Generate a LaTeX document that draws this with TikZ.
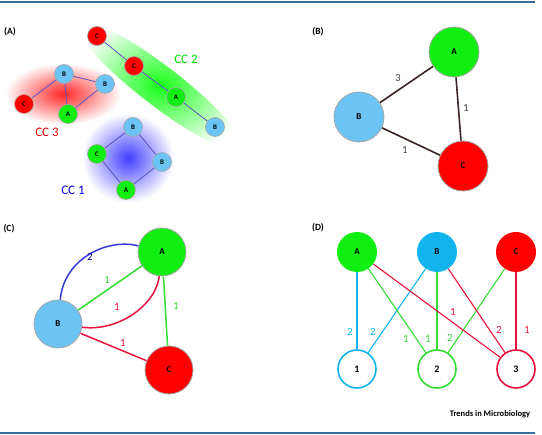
\documentclass[tikz,border=0pt]{standalone}
\usepackage{fontspec}
\setmainfont{Carlito}
\definecolor{nred}{HTML}{FF0000}
\definecolor{ngreen}{HTML}{11EE11}
\definecolor{nblue}{HTML}{6CC4F4}
\definecolor{ncyan}{HTML}{12B4EE}
\definecolor{crim}{HTML}{E8103C}
\definecolor{rulecol}{HTML}{3B6C9C}
\definecolor{edgeA}{HTML}{5B4FC0}
\definecolor{edgeB}{HTML}{3A2424}
\definecolor{cblue}{HTML}{3A3AD8}
\definecolor{cgreen}{HTML}{33DD33}
\definecolor{numgrey}{HTML}{444444}

\tikzset{
  small/.style={circle,draw=gray!70,line width=0.6pt,minimum size=19pt,inner sep=0pt,
    font=\fontsize{7}{7}\selectfont\bfseries},
  big/.style={circle,draw=gray!70,line width=0.8pt,minimum size=50pt,inner sep=0pt,
    font=\fontsize{9}{9}\selectfont\bfseries},
  mid/.style={circle,minimum size=40pt,inner sep=0pt,font=\fontsize{9}{9}\selectfont\bfseries},
  ring/.style={circle,fill=white,line width=1.6pt,minimum size=38pt,inner sep=0pt,
    font=\fontsize{10}{10}\selectfont\bfseries},
  panel/.style={font=\fontsize{9.5}{9.5}\selectfont\bfseries},
  num/.style={font=\fontsize{11}{11}\selectfont},
  cc/.style={font=\fontsize{13}{13}\selectfont}
}

\begin{document}
\begin{tikzpicture}[x=1pt,y=-1pt]
  \useasboundingbox (0,0) rectangle (542,435);
  % frame rules
  \draw[rulecol,line width=2.2pt] (0,2) -- (535,2);
  \draw[rulecol,line width=2.2pt] (0,433) -- (535,433);

  % (A) connected components
  \node[panel] (la) at (10,32) {(A)};
  \shade[inner color=red!85,outer color=white] (63,94) ellipse [x radius=58pt,y radius=31pt];
  \shade[inner color=blue!75,outer color=white] (128,158) ellipse [x radius=46pt,y radius=45pt];
  \begin{scope}[shift={(160,86)},rotate=-37.6]
    \shade[inner color=green!90,outer color=white] (0,0) ellipse [x radius=104pt,y radius=20pt];
  \end{scope}
  \node[small,fill=nred] (c2a) at (97,36) {C};
  \node[small,fill=nred] (c2b) at (134,66) {C};
  \node[small,fill=ngreen] (c2c) at (176,97) {A};
  \node[small,fill=nblue] (c2d) at (215,127) {B};
  \node[small,fill=nblue] (c3a) at (64,74) {B};
  \node[small,fill=nblue] (c3b) at (105,84) {B};
  \node[small,fill=nred] (c3c) at (24,104) {C};
  \node[small,fill=ngreen] (c3d) at (68,114) {A};
  \node[small,fill=nblue] (c1a) at (133,127) {B};
  \node[small,fill=ngreen] (c1b) at (97,154) {C};
  \node[small,fill=nblue] (c1c) at (162,162) {B};
  \node[small,fill=ngreen] (c1d) at (126,190) {A};
  \begin{scope}[edgeA,line width=0.8pt]
    \draw (c2a) -- (c2b);
    \draw (c2b) -- (c2c);
    \draw (c2c) -- (c2d);
    \draw (c3c) -- (c3a);
    \draw (c3a) -- (c3d);
    \draw (c3a) -- (c3b);
    \draw (c3b) -- (c3d);
    \draw (c1a) -- (c1b);
    \draw (c1b) -- (c1d);
    \draw (c1d) -- (c1c);
    \draw (c1c) -- (c1a);
  \end{scope}
  \node[cc,text=green!80!black!60!green] (cc2) at (186,59) {CC 2};
  \node[cc,text=red!85!black] (cc3) at (47,132) {CC 3};
  \node[cc,text=blue!85!black] (cc1) at (73,190) {CC 1};

  % (B) weighted graph
  \node[panel] (lb) at (318,32) {(B)};
  \node[big,fill=ngreen] (ba) at (454,52) {A};
  \node[big,fill=nblue] (bb) at (359,117) {B};
  \node[big,fill=nred] (bc) at (463,166) {C};
  \begin{scope}[edgeB,line width=1.6pt]
    \draw (bb) -- (ba);
    \draw (ba) -- (bc);
    \draw (bb) -- (bc);
  \end{scope}
  \node[num,text=numgrey] (w1) at (398,78) {3};
  \node[num,text=numgrey] (w2) at (466,108) {1};
  \node[num,text=numgrey] (w3) at (405,150) {1};

  % (C) multigraph
  \node[panel] (lc) at (9,229) {(C)};
  \node[mid,draw=gray!70,line width=0.8pt,minimum size=48pt,fill=ngreen] (ca) at (162,252) {A};
  \node[mid,draw=gray!70,line width=0.8pt,minimum size=48pt,fill=nblue] (cb) at (58,324) {B};
  \node[mid,draw=gray!70,line width=0.8pt,minimum size=48pt,fill=nred] (cc) at (169,370) {C};
  \draw[cblue,line width=1.5pt] (cb) .. controls (64,258) and (108,238) .. (ca);
  \draw[cgreen,line width=1.5pt] (cb) -- (ca);
  \draw[crim,line width=1.5pt] (cb) .. controls (118,332) and (156,305) .. (ca);
  \draw[cgreen,line width=1.5pt] (ca) -- (cc);
  \draw[crim,line width=1.5pt] (cb) -- (cc);
  \node[num,text=blue!55!black] (x1) at (90,257) {2};
  \node[num,text=cgreen] (x2) at (107,280) {1};
  \node[num,text=crim] (x3) at (117,307) {1};
  \node[num,text=cgreen] (x4) at (176,306) {1};
  \node[num,text=crim] (x5) at (123,343) {1};

  % (D) bipartite graph
  \node[panel] (ld) at (318,228) {(D)};
  \node[mid,fill=ngreen] (da) at (357,252) {A};
  \node[mid,fill=ncyan] (db) at (437,252) {B};
  \node[mid,fill=nred] (dc) at (516,252) {C};
  \node[ring,draw=ncyan] (d1) at (357,369) {1};
  \node[ring,draw=cgreen] (d2) at (437,369) {2};
  \node[ring,draw=crim] (d3) at (516,369) {3};
  \begin{scope}[line width=1.1pt]
    \draw[ncyan] (da) -- (d1);
    \draw[ncyan] (db) -- (d1);
    \draw[cgreen] (da) -- (d2);
    \draw[cgreen] (db) -- (d2);
    \draw[cgreen] (dc) -- (d2);
    \draw[crim] (da) -- (d3);
    \draw[crim] (db) -- (d3);
    \draw[crim] (dc) -- (d3);
  \end{scope}
  \node[num,text=ncyan] (y1) at (350,332) {2};
  \node[num,text=ncyan] (y2) at (373,332) {2};
  \node[num,text=cgreen] (y3) at (406,339) {1};
  \node[num,text=cgreen] (y4) at (428,339) {1};
  \node[num,text=cgreen] (y5) at (450,338) {2};
  \node[num,text=crim] (y6) at (453,312) {1};
  \node[num,text=crim] (y7) at (499,330) {2};
  \node[num,text=crim] (y8) at (527,330) {1};

  \node[font=\fontsize{8.5}{8.5}\selectfont\bfseries] (src) at (490,414) {Trends in Microbiology};
\end{tikzpicture}
\end{document}
